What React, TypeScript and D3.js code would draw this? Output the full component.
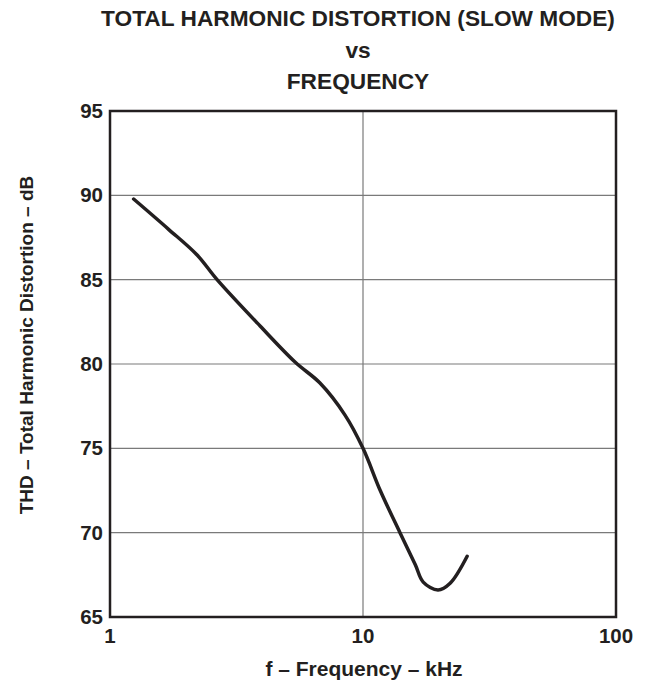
import React, { useEffect, useRef } from 'react';
import * as d3 from 'd3';

// frequency in kHz, THD in dB
const freqKHz = [1.24, 1.7, 2.21, 2.65, 3.92, 5.4, 6.76, 8.49, 10, 11.7, 14.0, 16.1, 17.3, 19.8, 22.1, 25.8];
const thdDb = [89.78, 88.0, 86.46, 85.0, 82.25, 80.1, 78.87, 76.97, 75, 72.5, 70.0, 68.1, 67.07, 66.6, 67.0, 68.6];

const yTicks = [65, 70, 75, 80, 85, 90, 95];
const xTicks = [1, 10, 100];
const xGrid = [10];
const titleLines = ['TOTAL HARMONIC DISTORTION (SLOW MODE)', 'vs', 'FREQUENCY'];

const App: React.FC = () => {
  const ref = useRef<SVGSVGElement | null>(null);

  useEffect(() => {
    if (!ref.current) return;
    const svg = d3.select(ref.current);
    svg.selectAll('*').remove();

    const left = 110, right = 616, top = 111, bottom = 617;
    const font = 'Liberation Sans, Arial, sans-serif';
    const ink = '#231f20';

    const x = d3.scaleLog().domain([1, 100]).range([left, right]);
    const y = d3.scaleLinear().domain([65, 95]).range([bottom, top]);

    // grid
    svg.append('g')
      .selectAll('line')
      .data(yTicks.filter(t => t > 65 && t < 95))
      .enter().append('line')
      .attr('x1', left).attr('x2', right)
      .attr('y1', d => y(d)).attr('y2', d => y(d))
      .attr('stroke', '#7a7a7a').attr('stroke-width', 1.2);

    svg.append('g')
      .selectAll('line')
      .data(xGrid)
      .enter().append('line')
      .attr('x1', d => x(d)).attr('x2', d => x(d))
      .attr('y1', top).attr('y2', bottom)
      .attr('stroke', '#7a7a7a').attr('stroke-width', 1.2);

    // frame
    svg.append('rect')
      .attr('x', left).attr('y', top)
      .attr('width', right - left).attr('height', bottom - top)
      .attr('fill', 'none').attr('stroke', ink).attr('stroke-width', 2.5);

    // curve
    const pts: [number, number][] = freqKHz.map((f, i) => [f, thdDb[i]]);
    const line = d3.line<[number, number]>()
      .x(d => x(d[0]))
      .y(d => y(d[1]))
      .curve(d3.curveCatmullRom.alpha(0.5));
    svg.append('path')
      .attr('d', line(pts)!)
      .attr('fill', 'none')
      .attr('stroke', ink)
      .attr('stroke-width', 3.5)
      .attr('stroke-linecap', 'round');

    // y tick labels
    svg.append('g')
      .selectAll('text')
      .data(yTicks)
      .enter().append('text')
      .attr('x', left - 7)
      .attr('y', d => y(d) + 7)
      .attr('text-anchor', 'end')
      .attr('font-family', font).attr('font-weight', 'bold').attr('font-size', 20.5)
      .attr('fill', ink)
      .text(d => d);

    // x tick labels
    svg.append('g')
      .selectAll('text')
      .data(xTicks)
      .enter().append('text')
      .attr('x', d => x(d))
      .attr('y', 643)
      .attr('text-anchor', 'middle')
      .attr('font-family', font).attr('font-weight', 'bold').attr('font-size', 20.5)
      .attr('fill', ink)
      .text(d => d);

    // axis titles
    svg.append('text')
      .attr('x', 364)
      .attr('y', 676)
      .attr('text-anchor', 'middle')
      .attr('font-family', font).attr('font-weight', 'bold').attr('font-size', 21)
      .attr('fill', ink)
      .text('f – Frequency – kHz');

    svg.append('text')
      .attr('transform', `translate(33,345) rotate(-90)`)
      .attr('text-anchor', 'middle')
      .attr('font-family', font).attr('font-weight', 'bold').attr('font-size', 19)
      .attr('fill', ink)
      .text('THD – Total Harmonic Distortion – dB');

    // title
    svg.append('g')
      .selectAll('text')
      .data(titleLines)
      .enter().append('text')
      .attr('x', 358)
      .attr('y', (_d, i) => 26 + i * 31.5)
      .attr('text-anchor', 'middle')
      .attr('font-family', font).attr('font-weight', 'bold').attr('font-size', 22.7)
      .attr('fill', ink)
      .text(d => d);
  }, []);

  return (
    <div style={{ position: 'absolute', left: 0, top: 0 }}>
      <svg ref={ref} width={645} height={683} style={{ display: 'block', background: '#fff' }} />
    </div>
  );
};

export default App;
